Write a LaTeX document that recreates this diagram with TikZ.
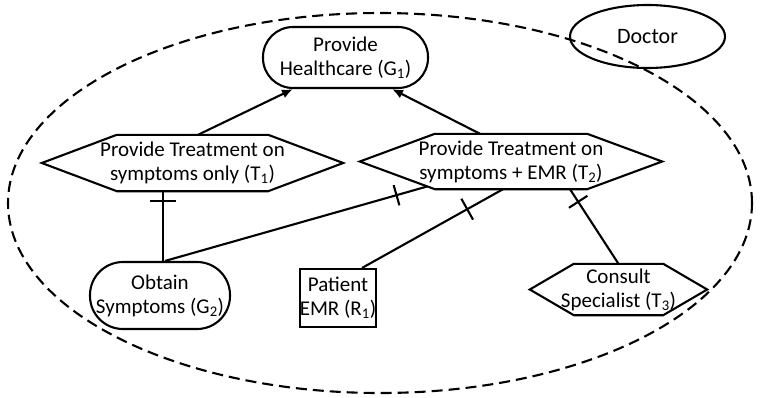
\documentclass[tikz,border=0pt]{standalone}
\usepackage{fontspec}
\setmainfont{Carlito}
\usetikzlibrary{arrows.meta,shapes.geometric,decorations.markings,calc}

\tikzset{
  base/.style={line width=2.1pt},
  label text/.style={font=\fontsize{21}{24}\selectfont, align=center, inner sep=0pt},
  goal/.style={base, label text, draw, rounded corners=#1, minimum width=165pt, minimum height=61pt},
  task/.style={label text, minimum height=56pt},
  res/.style={base, label text, draw, minimum width=64pt, minimum height=58pt},
  actor/.style={base, draw, ellipse, font=\fontsize{22}{26}\selectfont, inner sep=0pt},
  means/.style={base, -{Latex[length=11pt,width=9pt]}},
  decomp/.style 2 args={base, postaction={decorate},
    decoration={markings, mark=at position #1 with {\draw[base] (0,-#2) -- (0,#2);}}},
}

% hexagonal task outline drawn around an invisible rectangular node
\newcommand{\hexoutline}[2]{%
  \draw[base] (#1.west) -- ([xshift=#2]#1.north west) -- ([xshift=-#2]#1.north east)
    -- (#1.east) -- ([xshift=-#2]#1.south east) -- ([xshift=#2]#1.south west) -- cycle;}

\begin{document}
\begin{tikzpicture}[x=1pt, y=-1pt]
\useasboundingbox (0,0) rectangle (760,397);

% actor boundary
\draw[base, dash pattern=on 11pt off 6pt] (380,203) ellipse [x radius=372pt, y radius=190pt];
\node[actor, minimum width=155pt, minimum height=63pt] (doctor) at (647.5,36.5) {Doctor};

% goals
\node[goal=30pt] (g1) at (345.5,57.5) {Provide\\Healthcare (G\textsubscript{1})};
\node[goal=33pt, minimum width=140pt, minimum height=67pt] (g2) at (160,295.5)
  {Obtain\\Symptoms (G\textsubscript{2})};

% tasks
\node[task, minimum width=301pt] (t1) at (192.5,163) {Provide Treatment on\\symptoms only (T\textsubscript{1})};
\hexoutline{t1}{75pt}
\node[task, minimum width=302pt, minimum height=55pt] (t2) at (511,161.5) {Provide Treatment on\\symptoms + EMR (T\textsubscript{2})};
\hexoutline{t2}{75pt}
\node[task, minimum width=177pt, minimum height=51pt] (t3) at (618.5,289.5) {Consult\\Specialist (T\textsubscript{3})};
\hexoutline{t3}{44pt}

% resource
\node[res] (r1) at (338,298) {Patient\\EMR (R\textsubscript{1})};

% means-end links
\draw[means] ([xshift=5.5pt]t1.north) -- ([xshift=-52.5pt]g1.south);
\draw[means] ([xshift=-31pt]t2.north) -- ([xshift=46.5pt]g1.south);

% decomposition links
\draw[decomp={-10pt}{13pt}] ([xshift=3pt]g2.north) -- ([xshift=-29.5pt]t1.south);
\coordinate (t2in) at ($(t2.west)!0.9!([xshift=75pt]t2.south west)$);
\draw[decomp={-32pt}{10.5pt}] ([xshift=5pt]g2.north) -- (t2in);
\draw[decomp={-41pt}{12pt}] ([xshift=24pt]r1.north) -- ([xshift=-8pt]t2.south);
\draw[decomp={-15pt}{11pt}] (t3.north) -- ([xshift=59pt]t2.south);
\end{tikzpicture}
\end{document}
